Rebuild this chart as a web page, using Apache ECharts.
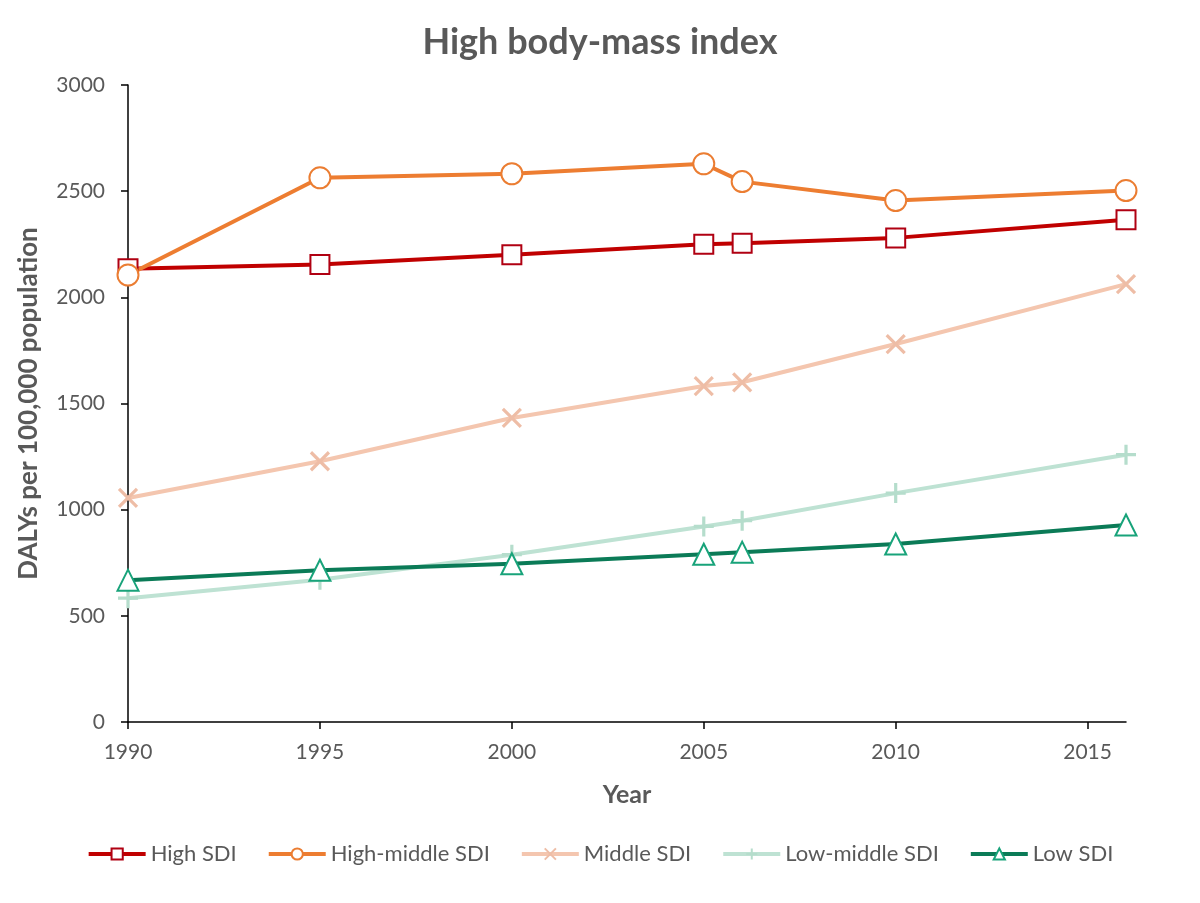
<!DOCTYPE html>
<html>
<head>
<meta charset="utf-8">
<title>High body-mass index</title>
<script src="https://cdn.jsdelivr.net/npm/echarts@6.0.0/dist/echarts.min.js"></script>
<style>
  html, body { margin: 0; padding: 0; background: #ffffff; }
  #chart { width: 1200px; height: 903px; }
</style>
</head>
<body>
<div id="chart"></div>
<script>
// years of the estimates
const years = [1990, 1995, 2000, 2005, 2006, 2010, 2016];
const xTicks = [1990, 1995, 2000, 2005, 2010, 2015];

// DALYs per 100,000 population
const highSDI = [2135, 2155, 2200, 2250, 2255, 2280, 2365];
const highMiddleSDI = [2105, 2563, 2582, 2629, 2545, 2456, 2503];
const middleSDI = [1055, 1228, 1432, 1582, 1600, 1780, 2062];
const lowMiddleSDI = [583, 670, 788, 921, 948, 1078, 1259];
const lowSDI = [668, 715, 745, 790, 800, 838, 928];

const seriesNames = ['High SDI', 'High-middle SDI', 'Middle SDI', 'Low-middle SDI', 'Low SDI'];

const chart = echarts.init(document.getElementById('chart'));

// pair years with values for the value x axis
function pairs(vals) {
  return years.map((y, i) => [y, vals[i]]);
}

const textColor = '#595959';
const font = 'Lato';

const X_PATH = 'path://M0,0L10,10M10,0L0,10';
const PLUS_PATH = 'path://M5,0L5,10M0,5L10,5';

function lineSeries(name, vals, lineColor, markColor, symbol, size) {
  return {
    name: name,
    type: 'line',
    data: pairs(vals),
    symbol: symbol,
    symbolSize: size,
    lineStyle: { color: lineColor, width: 4 },
    itemStyle: { color: markColor, borderColor: markColor, borderWidth: 3.2 },
    emphasis: { disabled: true },
    animation: false
  };
}

const option = {
  backgroundColor: '#ffffff',
  textStyle: { fontFamily: font },
  title: {
    text: 'High body-mass index',
    left: 'center',
    top: 19,
    textStyle: { fontFamily: font, fontSize: 36, fontWeight: 'bold', color: textColor }
  },
  legend: {
    bottom: 33,
    left: 'center',
    itemWidth: 57,
    itemHeight: 14,
    itemGap: 30,
    lineStyle: { width: 4 },
    textStyle: { fontFamily: font, fontSize: 22, color: textColor },
    data: seriesNames
  },
  grid: {
    left: 128,
    right: 74,
    top: 85,
    bottom: 181,
    containLabel: false
  },
  xAxis: {
    type: 'value',
    min: 1990,
    max: 2016,
    interval: 5,
    name: 'Year',
    nameLocation: 'middle',
    nameGap: 60,
    nameTextStyle: { fontFamily: font, fontSize: 25, fontWeight: 'bold', color: textColor },
    axisLine: { lineStyle: { color: '#000000', width: 1.5 } },
    axisTick: { show: true, length: 7, inside: false, customValues: xTicks, lineStyle: { color: '#000000', width: 1.5 } },
    axisLabel: { customValues: xTicks, margin: 20, fontSize: 21, color: textColor, fontFamily: font, formatter: v => String(v) },
    splitLine: { show: false }
  },
  yAxis: {
    type: 'value',
    min: 0,
    max: 3000,
    interval: 500,
    name: 'DALYs per 100,000 population',
    nameLocation: 'middle',
    nameGap: 86,
    nameTextStyle: { fontFamily: font, fontSize: 26, fontWeight: 'bold', color: textColor },
    axisLine: { show: true, lineStyle: { color: '#000000', width: 1.5 } },
    axisTick: { show: true, length: 7, lineStyle: { color: '#000000', width: 1.5 } },
    axisLabel: { margin: 23, fontSize: 21, color: textColor, fontFamily: font, formatter: v => String(v) },
    splitLine: { show: false }
  },
  series: [
    lineSeries('High SDI', highSDI, '#C00000', '#B00012', 'emptyRect', 19),
    lineSeries('High-middle SDI', highMiddleSDI, '#ED7D31', '#EB7D32', 'emptyCircle', 21),
    lineSeries('Middle SDI', middleSDI, '#F4C6AF', '#EEBDA6', X_PATH, 18),
    lineSeries('Low-middle SDI', lowMiddleSDI, '#BEE2D3', '#B5DDCC', PLUS_PATH, 20),
    lineSeries('Low SDI', lowSDI, '#0B7B57', '#18A37A', 'emptyTriangle', 21)
  ]
};

chart.setOption(option);
</script>
</body>
</html>
